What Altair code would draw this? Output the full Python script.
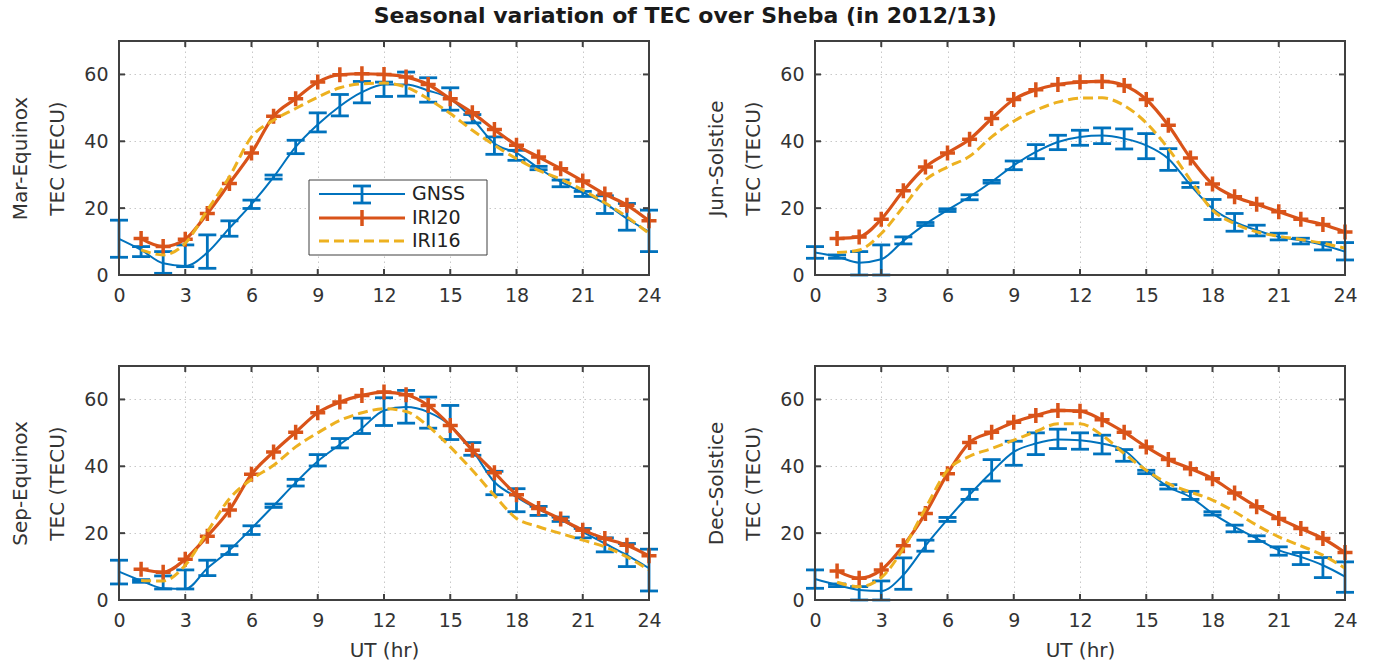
import altair as alt
import pandas as pd

TITLE = "Seasonal variation of TEC over Sheba (in 2012/13)"
SEASONS = ["Mar-Equinox", "Jun-Solstice", "Sep-Equinox", "Dec-Solstice"]
Y_SUB = "TEC (TECU)"
X_TITLE = "UT (hr)"
LEGEND_LABELS = ["GNSS", "IRI20", "IRI16"]

HOURS = list(range(0, 25))
IRI_HOURS = list(range(1, 25))
X_TICKS = [0, 3, 6, 9, 12, 15, 18, 21, 24]
Y_TICKS = [0, 20, 40, 60]

# ---- Mar-Equinox ----
MAR_GNSS = [10.8, 7.5, 3.5, 2.7, 6.7, 14.0, 21.2, 29.3, 38.3, 45.0, 50.5, 54.7, 57.0,
            57.0, 55.2, 52.7, 46.8, 39.3, 36.5, 32.0, 27.9, 24.7, 21.4, 16.9, 12.9]
MAR_LO = [5.3, 5.5, 0.5, 2.5, 2.0, 11.6, 19.9, 28.7, 36.3, 42.8, 47.6, 51.5, 53.4,
          53.5, 51.7, 49.3, 45.5, 36.1, 34.3, 31.5, 26.4, 23.5, 18.4, 13.4, 7.0]
MAR_HI = [16.4, 8.5, 7.0, 9.0, 12.0, 16.2, 22.4, 29.9, 40.3, 48.5, 54.0, 57.9, 57.7,
          60.7, 59.0, 56.0, 48.0, 41.3, 37.3, 32.5, 28.4, 25.0, 23.7, 21.4, 19.4]
MAR_IRI20 = [10.9, 8.5, 10.7, 18.4, 27.4, 36.5, 47.5, 52.7, 57.7, 59.9, 60.2, 60.0,
             59.2, 57.0, 52.7, 48.5, 43.5, 38.8, 35.3, 31.8, 28.1, 24.2, 20.9, 16.2]
MAR_IRI16 = [7.5, 6.0, 9.5, 19.4, 29.4, 41.3, 46.3, 49.8, 53.2, 56.0, 57.2, 57.4,
             56.2, 52.7, 48.3, 43.3, 38.8, 34.8, 31.3, 28.7, 25.4, 21.6, 17.4, 12.4]

# ---- Jun-Solstice ----
JUN_GNSS = [6.7, 5.5, 3.7, 4.7, 10.2, 15.2, 19.4, 23.4, 27.9, 32.8, 36.8, 39.8, 41.3,
            41.7, 40.8, 38.8, 34.8, 26.9, 19.9, 15.9, 13.4, 11.4, 10.4, 9.0, 7.0]
JUN_LO = [5.0, 5.0, 0.0, 0.0, 9.3, 14.8, 19.0, 22.5, 27.5, 31.5, 34.8, 37.5, 38.8,
          39.3, 37.7, 34.8, 31.3, 26.2, 16.6, 13.1, 11.7, 10.5, 9.3, 7.5, 4.5]
JUN_HI = [8.5, 6.0, 7.0, 9.0, 11.4, 15.7, 19.8, 24.0, 28.3, 34.1, 39.0, 41.8, 43.3,
          44.0, 43.7, 42.3, 37.8, 27.6, 22.6, 18.4, 14.9, 12.5, 11.0, 9.7, 9.7]
JUN_IRI20 = [10.9, 11.4, 16.7, 25.2, 32.3, 36.5, 40.6, 46.8, 52.5, 55.4, 57.0, 57.7,
             57.9, 56.7, 52.5, 44.8, 35.0, 27.2, 23.4, 21.2, 18.9, 16.7, 15.1, 12.9]
JUN_IRI16 = [6.7, 7.5, 12.4, 20.4, 28.4, 32.3, 35.5, 41.3, 46.0, 49.3, 51.7, 52.9,
             53.0, 50.7, 45.5, 37.8, 28.4, 19.4, 15.4, 12.9, 11.6, 10.6, 9.5, 8.0]

# ---- Sep-Equinox ----
SEP_GNSS = [8.5, 5.8, 3.5, 3.3, 9.5, 14.9, 21.4, 28.2, 35.1, 41.5, 46.5, 51.4, 56.7,
            57.7, 56.2, 52.2, 44.8, 35.3, 30.8, 27.1, 24.1, 20.4, 16.9, 13.4, 9.5]
SEP_LO = [4.8, 5.3, 3.3, 3.3, 7.3, 13.6, 19.6, 27.7, 34.1, 40.1, 45.5, 49.8, 52.2,
          52.9, 51.4, 48.0, 43.3, 31.5, 26.4, 25.3, 23.5, 18.6, 14.4, 10.0, 2.7]
SEP_HI = [11.9, 6.1, 7.2, 9.0, 11.9, 16.2, 22.2, 28.7, 36.1, 43.5, 48.3, 54.4, 60.5,
          62.7, 60.7, 58.2, 47.1, 38.5, 33.3, 28.0, 24.8, 21.4, 18.6, 16.9, 15.2]
SEP_IRI20 = [9.2, 8.3, 12.2, 19.1, 26.9, 37.6, 44.3, 50.2, 56.0, 59.2, 61.2, 62.2,
             61.4, 58.2, 52.2, 44.8, 38.1, 31.5, 27.4, 24.2, 20.9, 18.4, 16.4, 13.2]
SEP_IRI16 = [5.8, 5.7, 10.4, 20.4, 30.3, 36.1, 40.3, 45.8, 50.0, 53.7, 56.0, 57.2,
             56.4, 52.0, 45.8, 38.8, 31.3, 24.4, 21.9, 19.9, 17.9, 15.9, 12.9, 9.0]

# ---- Dec-Solstice ----
DEC_GNSS = [6.3, 4.5, 3.0, 2.7, 7.5, 16.2, 24.1, 31.5, 38.3, 44.3, 46.8, 48.0, 47.8,
            46.8, 44.8, 38.8, 33.8, 30.8, 25.9, 21.9, 18.4, 14.9, 12.9, 10.4, 7.0]
DEC_LO = [3.5, 4.0, 0.0, 0.0, 3.2, 14.6, 23.5, 30.1, 35.6, 40.3, 43.5, 45.3, 45.1,
          43.7, 41.5, 37.8, 33.2, 30.1, 25.4, 20.4, 17.5, 13.4, 10.6, 6.7, 2.3]
DEC_HI = [9.0, 4.8, 4.0, 5.7, 12.6, 17.9, 24.7, 33.1, 42.0, 47.5, 50.0, 51.1, 50.0,
          49.3, 45.0, 38.8, 34.5, 32.5, 26.4, 22.4, 19.2, 15.9, 14.2, 12.7, 11.4]
DEC_IRI20 = [8.7, 6.5, 9.0, 16.2, 25.9, 37.8, 47.1, 50.2, 53.2, 55.2, 56.7, 56.5,
             53.9, 50.2, 45.8, 42.0, 39.3, 36.3, 32.0, 27.9, 24.4, 21.4, 18.4, 14.2]
DEC_IRI16 = [5.3, 4.0, 6.7, 15.4, 27.4, 38.8, 43.0, 45.3, 47.8, 50.4, 52.7, 52.7,
             49.3, 43.8, 38.8, 34.8, 32.3, 29.9, 26.4, 22.4, 18.9, 16.2, 13.4, 9.5]

PANELS = [
    (MAR_GNSS, MAR_LO, MAR_HI, MAR_IRI20, MAR_IRI16),
    (JUN_GNSS, JUN_LO, JUN_HI, JUN_IRI20, JUN_IRI16),
    (SEP_GNSS, SEP_LO, SEP_HI, SEP_IRI20, SEP_IRI16),
    (DEC_GNSS, DEC_LO, DEC_HI, DEC_IRI20, DEC_IRI16),
]

# ---- style ----
W, H = 530, 234
BLUE, ORANGE, YELLOW = "#0072BD", "#D95319", "#EDB120"
FONT = "DejaVu Sans"
AXC = "#404040"
TXT = "#333333"
PLUS = "M-1,0L1,0M0,-1L0,1"
CAP = "M-1,0L1,0"
DASH = [10, 5]


def x_enc(bottom):
    ax = dict(values=X_TICKS, grid=True, gridColor="#c8c8c8", gridDash=[1.5, 3.5],
              gridWidth=1, domain=False, ticks=False, labelFontSize=19, labelFont=FONT,
              labelColor=TXT, labelPadding=11, labelFlush=False, labelOverlap=False)
    if bottom:
        ax.update(title=X_TITLE, titleFontSize=20, titleFont=FONT, titleFontWeight="normal",
                  titleColor=TXT, titlePadding=10)
    else:
        ax.update(title="")
    return alt.X("UT:Q", scale=alt.Scale(domain=[0, 24], nice=False, zero=False),
                 axis=alt.Axis(**ax))


def y_enc(season, field="TEC"):
    ax = dict(values=Y_TICKS, grid=True, gridColor="#c8c8c8", gridDash=[1.5, 3.5],
              gridWidth=1, domain=False, ticks=False, labelFontSize=19, labelFont=FONT,
              labelColor=TXT, labelPadding=11, labelFlush=False, labelOverlap=False,
              title=[season, Y_SUB], titleFontSize=20, titleFont=FONT,
              titleFontWeight="normal", titleColor=TXT, titlePadding=16,
              titleLineHeight=37)
    return alt.Y(f"{field}:Q", scale=alt.Scale(domain=[0, 70], nice=False, zero=False),
                 axis=alt.Axis(**ax))


def legend_layers():
    one = alt.Data(values=[{"k": 0}])
    L = []
    L.append(alt.Chart(one).mark_rect(fill="white", stroke=AXC, strokeWidth=1).encode(
        x=alt.value(190), x2=alt.value(368), y=alt.value(139), y2=alt.value(214)))
    # GNSS
    L.append(alt.Chart(one).mark_rule(color=BLUE, strokeWidth=2).encode(
        x=alt.value(200), x2=alt.value(286), y=alt.value(153)))
    L.append(alt.Chart(one).mark_rule(color=BLUE, strokeWidth=2.8).encode(
        x=alt.value(243), y=alt.value(145), y2=alt.value(162)))
    L.append(alt.Chart(one).mark_rule(color=BLUE, strokeWidth=2.8).encode(
        x=alt.value(234), x2=alt.value(252), y=alt.value(145)))
    L.append(alt.Chart(one).mark_rule(color=BLUE, strokeWidth=2.8).encode(
        x=alt.value(234), x2=alt.value(252), y=alt.value(162)))
    # IRI20
    L.append(alt.Chart(one).mark_rule(color=ORANGE, strokeWidth=3.2).encode(
        x=alt.value(200), x2=alt.value(286), y=alt.value(177)))
    L.append(alt.Chart(one).mark_rule(color=ORANGE, strokeWidth=3.5).encode(
        x=alt.value(243), y=alt.value(169), y2=alt.value(185)))
    # IRI16
    L.append(alt.Chart(one).mark_rule(color=YELLOW, strokeWidth=3, strokeDash=DASH).encode(
        x=alt.value(200), x2=alt.value(286), y=alt.value(200)))
    for lab, yy in zip(LEGEND_LABELS, [153, 177, 200]):
        L.append(alt.Chart(one).mark_text(align="left", baseline="middle", font=FONT,
                                          fontSize=19, color="#222222", text=lab).encode(
            x=alt.value(293), y=alt.value(yy)))
    return L


def panel(i):
    gnss, lo, hi, iri20, iri16 = PANELS[i]
    bottom = i >= 2
    season = SEASONS[i]
    gdf = pd.DataFrame({"UT": HOURS, "TEC": gnss, "lo": lo, "hi": hi})
    idf = pd.DataFrame({"UT": IRI_HOURS, "IRI20": iri20, "IRI16": iri16})
    xt = pd.DataFrame({"UT": X_TICKS})
    yt = pd.DataFrame({"TEC": Y_TICKS})
    X = x_enc(bottom)

    layers = []
    layers.append(alt.Chart(gdf).mark_line(color=BLUE, strokeWidth=2, interpolate="monotone")
                  .encode(x=X, y=y_enc(season)))
    layers.append(alt.Chart(gdf).mark_rule(color=BLUE, strokeWidth=2.8)
                  .encode(x=X, y=y_enc(season, "lo"), y2="hi:Q"))
    layers.append(alt.Chart(gdf).transform_fold(["lo", "hi"], as_=["end", "TECb"])
                  .mark_point(shape=CAP, size=324, filled=False, color=BLUE, strokeWidth=2.8, opacity=1)
                  .encode(x=X, y=y_enc(season, "TECb")))
    layers.append(alt.Chart(idf).mark_line(color=ORANGE, strokeWidth=3.2, interpolate="monotone")
                  .encode(x=X, y=y_enc(season, "IRI20")))
    layers.append(alt.Chart(idf).mark_point(shape=PLUS, size=225, filled=False, color=ORANGE,
                                           strokeWidth=3.5, opacity=1)
                  .encode(x=X, y=y_enc(season, "IRI20")))
    layers.append(alt.Chart(idf).mark_line(color=YELLOW, strokeWidth=3, strokeDash=DASH,
                                          interpolate="monotone")
                  .encode(x=X, y=y_enc(season, "IRI16")))
    # box frame and inward ticks (MATLAB style)
    one = alt.Data(values=[{"k": 0}])
    layers.append(alt.Chart(one).mark_rect(fill=None, filled=False, stroke=AXC, strokeWidth=2)
                  .encode(x=alt.value(0), x2=alt.value(W), y=alt.value(0), y2=alt.value(H)))
    layers.append(alt.Chart(xt).mark_rule(color=AXC, strokeWidth=2)
                  .encode(x=X, y=alt.value(H - 6), y2=alt.value(H)))
    layers.append(alt.Chart(xt).mark_rule(color=AXC, strokeWidth=2)
                  .encode(x=X, y=alt.value(0), y2=alt.value(6)))
    layers.append(alt.Chart(yt).mark_rule(color=AXC, strokeWidth=2)
                  .encode(y=y_enc(season), x=alt.value(0), x2=alt.value(6)))
    layers.append(alt.Chart(yt).mark_rule(color=AXC, strokeWidth=2)
                  .encode(y=y_enc(season), x=alt.value(W - 6), x2=alt.value(W)))
    if i == 0:
        layers += legend_layers()
    return alt.layer(*layers).properties(width=W, height=H)


chart = alt.concat(
    panel(0), panel(1), panel(2), panel(3),
    columns=2,
    spacing={"row": 91, "column": 166},
    bounds="flush",
    title=alt.TitleParams(TITLE, font=FONT, fontSize=22, fontWeight="bold", color="#1a1a1a",
                          anchor="middle", offset=12),
    padding={"left": 10, "top": 4, "right": 10, "bottom": 5},
).configure_view(stroke=None).configure(background="white")

chart.save("out.html", embed_options={"renderer": "svg", "actions": False})
